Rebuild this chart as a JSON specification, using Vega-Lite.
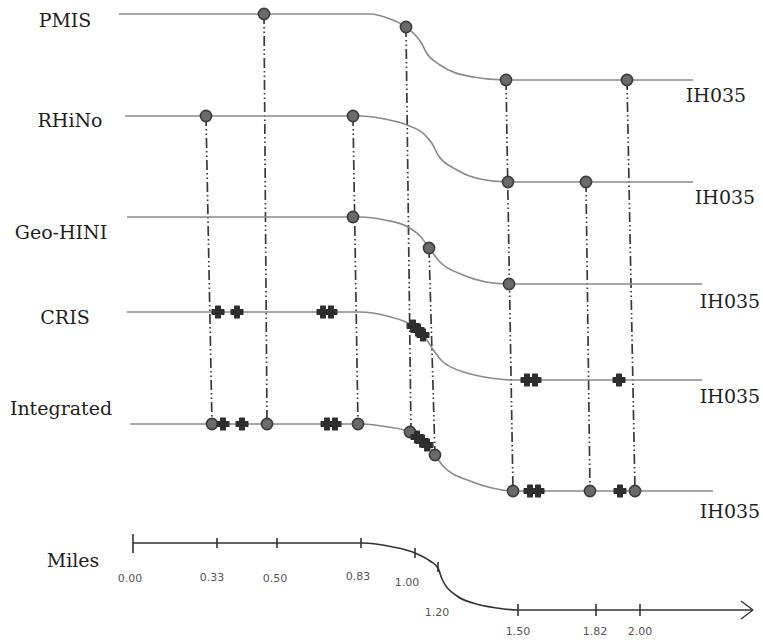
{
  "$schema": "https://vega.github.io/schema/vega-lite/v6.json",
  "width": 763,
  "height": 640,
  "autosize": {"type": "fit", "contains": "padding"},
  "padding": 0,
  "background": "white",
  "config": {"view": {"stroke": null}},
  "datasets": {
    "tracks": [
      {"track": "PMIS", "x": 119, "y": 14}, {"track": "PMIS", "x": 370, "y": 14}, {"track": "PMIS", "x": 390, "y": 19}, {"track": "PMIS", "x": 406, "y": 27}, {"track": "PMIS", "x": 417, "y": 37}, {"track": "PMIS", "x": 422, "y": 44}, {"track": "PMIS", "x": 426, "y": 52}, {"track": "PMIS", "x": 440, "y": 65}, {"track": "PMIS", "x": 473, "y": 77}, {"track": "PMIS", "x": 505, "y": 80}, {"track": "PMIS", "x": 693, "y": 80},
      {"track": "RHiNo", "x": 125, "y": 116}, {"track": "RHiNo", "x": 360, "y": 116}, {"track": "RHiNo", "x": 385, "y": 119}, {"track": "RHiNo", "x": 407, "y": 125}, {"track": "RHiNo", "x": 425, "y": 135}, {"track": "RHiNo", "x": 433, "y": 145}, {"track": "RHiNo", "x": 438, "y": 155}, {"track": "RHiNo", "x": 457, "y": 170}, {"track": "RHiNo", "x": 480, "y": 179}, {"track": "RHiNo", "x": 507, "y": 182}, {"track": "RHiNo", "x": 693, "y": 182},
      {"track": "Geo-HINI", "x": 127, "y": 217}, {"track": "Geo-HINI", "x": 360, "y": 217}, {"track": "Geo-HINI", "x": 385, "y": 220}, {"track": "Geo-HINI", "x": 408, "y": 227}, {"track": "Geo-HINI", "x": 421, "y": 237}, {"track": "Geo-HINI", "x": 429, "y": 248}, {"track": "Geo-HINI", "x": 440, "y": 262}, {"track": "Geo-HINI", "x": 463, "y": 275}, {"track": "Geo-HINI", "x": 486, "y": 282}, {"track": "Geo-HINI", "x": 509, "y": 284}, {"track": "Geo-HINI", "x": 702, "y": 284},
      {"track": "CRIS", "x": 127, "y": 312}, {"track": "CRIS", "x": 360, "y": 312}, {"track": "CRIS", "x": 387, "y": 316}, {"track": "CRIS", "x": 413, "y": 326}, {"track": "CRIS", "x": 425, "y": 337}, {"track": "CRIS", "x": 432, "y": 348}, {"track": "CRIS", "x": 442, "y": 361}, {"track": "CRIS", "x": 467, "y": 373}, {"track": "CRIS", "x": 490, "y": 378}, {"track": "CRIS", "x": 513, "y": 380}, {"track": "CRIS", "x": 702, "y": 380},
      {"track": "Integrated", "x": 130, "y": 424}, {"track": "Integrated", "x": 362, "y": 424}, {"track": "Integrated", "x": 388, "y": 427}, {"track": "Integrated", "x": 410, "y": 432}, {"track": "Integrated", "x": 425, "y": 442}, {"track": "Integrated", "x": 435, "y": 455}, {"track": "Integrated", "x": 443, "y": 466}, {"track": "Integrated", "x": 470, "y": 481}, {"track": "Integrated", "x": 492, "y": 488}, {"track": "Integrated", "x": 513, "y": 491}, {"track": "Integrated", "x": 713, "y": 491}
    ],
    "axisline": [
      {"x": 133, "y": 543}, {"x": 362, "y": 543}, {"x": 393, "y": 547}, {"x": 415, "y": 553}, {"x": 430, "y": 561}, {"x": 438, "y": 568}, {"x": 442, "y": 579}, {"x": 457, "y": 596}, {"x": 473, "y": 603}, {"x": 497, "y": 608}, {"x": 518, "y": 610}, {"x": 753, "y": 610}
    ],
    "arrow": [
      {"x": 741, "y": 601, "x2": 753, "y2": 610},
      {"x": 741, "y": 619, "x2": 753, "y2": 610}
    ],
    "ticks": [
      {"mile": "0.00", "x": 133, "top": 534, "bot": 553, "lx": 130, "ly": 579},
      {"mile": "0.33", "x": 217, "top": 538, "bot": 548, "lx": 212, "ly": 578},
      {"mile": "0.50", "x": 277, "top": 538, "bot": 548, "lx": 275, "ly": 579},
      {"mile": "0.83", "x": 361, "top": 538, "bot": 548, "lx": 358, "ly": 577},
      {"mile": "1.00", "x": 415, "top": 548, "bot": 558, "lx": 407, "ly": 583},
      {"mile": "1.20", "x": 438, "top": 562, "bot": 572, "lx": 437, "ly": 613},
      {"mile": "1.50", "x": 518, "top": 604, "bot": 616, "lx": 518, "ly": 632},
      {"mile": "1.82", "x": 596, "top": 604, "bot": 616, "lx": 595, "ly": 632},
      {"mile": "2.00", "x": 640, "top": 604, "bot": 616, "lx": 640, "ly": 632}
    ],
    "links": [
      {"x": 264, "y": 14, "x2": 267, "y2": 424},
      {"x": 206, "y": 116, "x2": 212, "y2": 424},
      {"x": 353, "y": 116, "x2": 358, "y2": 424},
      {"x": 406, "y": 27, "x2": 411, "y2": 433},
      {"x": 429, "y": 248, "x2": 435, "y2": 455},
      {"x": 506, "y": 80, "x2": 513, "y2": 491},
      {"x": 586, "y": 182, "x2": 590, "y2": 491},
      {"x": 627, "y": 80, "x2": 635, "y2": 491}
    ],
    "dots": [
      {"track": "PMIS", "x": 264, "y": 14}, {"track": "PMIS", "x": 406, "y": 27}, {"track": "PMIS", "x": 506, "y": 80}, {"track": "PMIS", "x": 627, "y": 80},
      {"track": "RHiNo", "x": 206, "y": 116}, {"track": "RHiNo", "x": 353, "y": 116}, {"track": "RHiNo", "x": 508, "y": 182}, {"track": "RHiNo", "x": 586, "y": 182},
      {"track": "Geo-HINI", "x": 353, "y": 217}, {"track": "Geo-HINI", "x": 429, "y": 248}, {"track": "Geo-HINI", "x": 509, "y": 284},
      {"track": "Integrated", "x": 212, "y": 424}, {"track": "Integrated", "x": 267, "y": 424}, {"track": "Integrated", "x": 358, "y": 424}, {"track": "Integrated", "x": 410, "y": 432}, {"track": "Integrated", "x": 435, "y": 455}, {"track": "Integrated", "x": 513, "y": 491}, {"track": "Integrated", "x": 590, "y": 491}, {"track": "Integrated", "x": 635, "y": 491}
    ],
    "crosses": [
      {"track": "CRIS", "x": 218, "y": 312}, {"track": "CRIS", "x": 237, "y": 312}, {"track": "CRIS", "x": 323, "y": 312}, {"track": "CRIS", "x": 331, "y": 312},
      {"track": "CRIS", "x": 413, "y": 326}, {"track": "CRIS", "x": 418, "y": 330}, {"track": "CRIS", "x": 423, "y": 335},
      {"track": "CRIS", "x": 527, "y": 380}, {"track": "CRIS", "x": 535, "y": 380}, {"track": "CRIS", "x": 619, "y": 380},
      {"track": "Integrated", "x": 223, "y": 424}, {"track": "Integrated", "x": 242, "y": 424}, {"track": "Integrated", "x": 327, "y": 424}, {"track": "Integrated", "x": 335, "y": 424},
      {"track": "Integrated", "x": 417, "y": 437}, {"track": "Integrated", "x": 422, "y": 441}, {"track": "Integrated", "x": 427, "y": 445},
      {"track": "Integrated", "x": 530, "y": 491}, {"track": "Integrated", "x": 538, "y": 491}, {"track": "Integrated", "x": 620, "y": 491}
    ],
    "labels": [
      {"text": "PMIS", "x": 65, "y": 21},
      {"text": "RHiNo", "x": 70, "y": 121},
      {"text": "Geo-HINI", "x": 61, "y": 233},
      {"text": "CRIS", "x": 65, "y": 318},
      {"text": "Integrated", "x": 61, "y": 409},
      {"text": "Miles", "x": 73, "y": 561},
      {"text": "IH035", "x": 716, "y": 96},
      {"text": "IH035", "x": 725, "y": 198},
      {"text": "IH035", "x": 730, "y": 302},
      {"text": "IH035", "x": 730, "y": 397},
      {"text": "IH035", "x": 730, "y": 512}
    ]
  },
  "encoding": {
    "x": {"field": "x", "type": "quantitative", "scale": {"domain": [0, 763], "nice": false, "zero": false}, "axis": null},
    "y": {"field": "y", "type": "quantitative", "scale": {"domain": [0, 640], "nice": false, "zero": false, "reverse": true}, "axis": null}
  },
  "layer": [
    {
      "data": {"name": "links"},
      "mark": {"type": "rule", "color": "#3a3a3a", "strokeWidth": 1.7, "strokeDash": [10, 3, 1.5, 3, 1.5, 3]},
      "encoding": {"x2": {"field": "x2"}, "y2": {"field": "y2"}}
    },
    {
      "data": {"name": "tracks"},
      "mark": {"type": "line", "interpolate": "monotone", "color": "#8a8a8a", "strokeWidth": 1.6},
      "encoding": {"detail": {"field": "track"}}
    },
    {
      "data": {"name": "axisline"},
      "mark": {"type": "line", "interpolate": "monotone", "color": "#333333", "strokeWidth": 1.6},
      "encoding": {}
    },
    {
      "data": {"name": "arrow"},
      "mark": {"type": "rule", "color": "#333333", "strokeWidth": 1.4},
      "encoding": {"x2": {"field": "x2"}, "y2": {"field": "y2"}}
    },
    {
      "data": {"name": "ticks"},
      "mark": {"type": "rule", "color": "#333333", "strokeWidth": 1.6},
      "encoding": {"y": {"field": "top", "type": "quantitative"}, "y2": {"field": "bot"}}
    },
    {
      "data": {"name": "ticks"},
      "mark": {"type": "text", "font": "DejaVu Sans", "fontSize": 11, "color": "#555555", "align": "center", "baseline": "middle"},
      "encoding": {"x": {"field": "lx", "type": "quantitative"}, "y": {"field": "ly", "type": "quantitative"}, "text": {"field": "mile"}}
    },
    {
      "data": {"name": "dots"},
      "mark": {"type": "point", "shape": "circle", "filled": true, "size": 125, "fill": "#6a6a6a", "stroke": "#3c3c3c", "strokeWidth": 1.6, "opacity": 1},
      "encoding": {}
    },
    {
      "data": {"name": "crosses"},
      "mark": {"type": "point", "shape": "cross", "filled": true, "size": 140, "fill": "#2e2e2e", "stroke": "#2e2e2e", "strokeWidth": 1.2, "strokeJoin": "round", "opacity": 1},
      "encoding": {}
    },
    {
      "data": {"name": "labels"},
      "mark": {"type": "text", "font": "DejaVu Serif", "fontSize": 19, "color": "#1e1e1e", "align": "center", "baseline": "middle"},
      "encoding": {"text": {"field": "text"}}
    }
  ]
}
